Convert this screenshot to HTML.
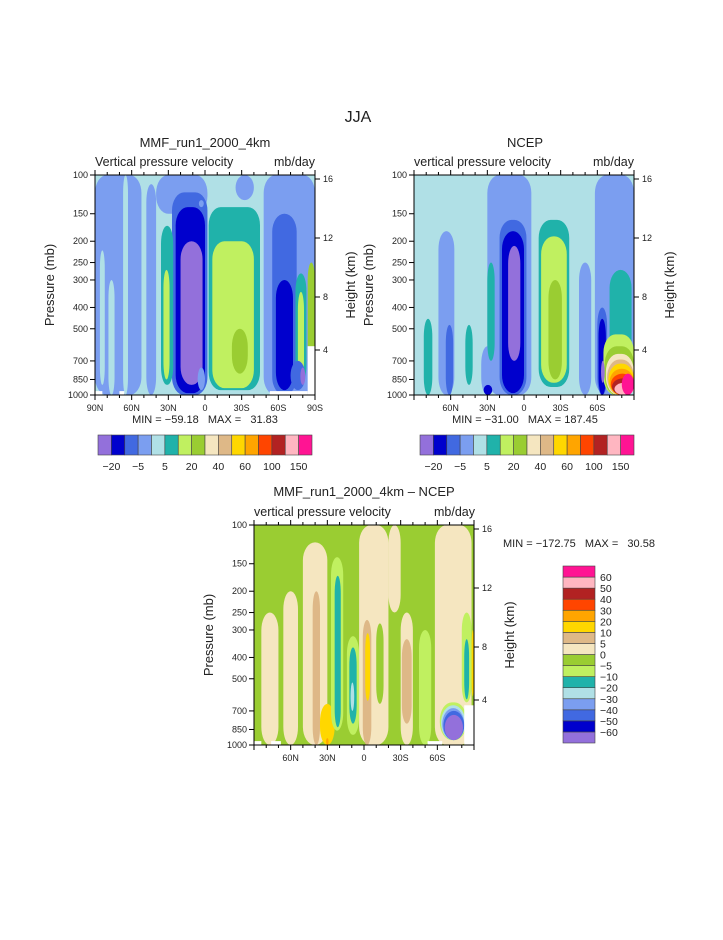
<!DOCTYPE html>
<html><head><meta charset="utf-8"><style>
body{margin:0;background:#fff;}
svg text{font-family:"Liberation Sans",sans-serif;fill:#222;white-space:pre;}
</style></head><body>
<svg id="s" width="723" height="935" viewBox="0 0 723 935">
<rect width="723" height="935" fill="#fff"/>
<text x="358" y="122" font-size="16" text-anchor="middle">JJA</text>
</svg>
<script>
const colors=["#9370DB","#0000CD","#4169E1","#7B9EF0","#B0E0E6","#20B2AA","#C0F060","#9ACD32","#F5E6C0","#DEB887","#FFD700","#FFA500","#FF4500","#B22222","#FFB6C1","#FF1493"];
const pLevels=[100,150,200,250,300,400,500,700,850,1000];
const latTicksFull=[90,60,30,0,-30,-60,-90];
const latTicksInner=[60,30,0,-30,-60];
const heightTicks=[16,12,8,4];
const heightOffsets=[4,63,122,175];
const topBarLabels=["-20","-5","5","20","40","60","100","150"];
const diffBarLabels=["60","50","40","30","20","10","5","0","-5","-10","-20","-30","-40","-50","-60"];
// blobs: [latN, latS, pTop, pBot, colorIndex]
const mmfBg=4;
const mmfBlobs=[
[90,52,100,1000,3],[79,74,300,1000,4],[67,63,100,1000,4],[86,82,220,900,4],[48,40,110,1000,3],
[40,-2,100,150,3],[27,-2,120,1000,2],[24,0,140,980,1],[20,2,200,900,0],
[36,26,170,900,5],[34,29,270,850,6],[-3,-45,140,950,5],[-6,-40,200,930,6],[-22,-35,500,800,7],
[5,1,130,140,3],[6,0,750,950,3],[-25,-40,100,130,3],
[-48,-90,100,1000,3],[-55,-75,150,1000,2],[-58,-72,300,950,1],[-74,-83,280,880,5],[-76,-81,340,840,6],[-84,-90,250,800,7],
[-70,-82,700,950,2],[-78,-82,750,900,0],[90,84,960,1000,-1],[70,66,960,1000,-1],[-53,-84,960,1000,-1],[-84,-90,600,1000,-1]
];
const ncepBg=4;
const ncepBlobs=[
[30,-6,100,1000,3],[20,-2,160,1000,2],[18,0,180,980,1],[13,3,210,700,0],
[-12,-37,160,920,5],[-14,-35,190,880,6],[-20,-31,300,850,7],
[70,57,180,1000,3],[64,58,480,1000,2],[82,75,450,1000,5],[48,42,480,900,5],[35,25,600,1000,3],[33,26,900,1000,1],[30,24,250,700,5],
[-45,-55,250,1000,3],[-58,-90,100,1000,3],[-60,-68,400,1000,2],[-61,-67,450,1000,1],[-70,-88,270,1000,5],
[-65,-90,530,1000,6],[-66,-90,600,1000,7],[-67,-90,650,1000,8],[-68,-90,690,1000,9],[-69,-90,720,1000,10],[-70,-90,760,1000,11],[-71,-90,800,1000,12],[-72,-90,840,1000,13],[-74,-90,880,1000,14],[-80,-90,800,1000,15],[-63,-66,700,880,0]
];
const diffBg=7;
const diffBlobs=[
[84,70,250,1000,8],[66,54,200,1000,8],[50,30,120,1000,8],[42,36,200,1000,9],[36,24,650,1000,10],[31,29,930,1000,11],
[27,17,140,860,6],[24,19,170,830,5],[14,4,320,900,6],[12,6,360,800,5],[11,8,520,700,4],
[4,-20,100,1000,8],[1,-6,270,1000,9],[-1,-5,310,630,10],[-10,-16,280,650,7],[-20,-30,100,250,8],[-30,-40,250,1000,8],[-31,-39,330,800,9],
[-45,-55,300,1000,6],[-58,-88,100,1000,8],[-80,-88,250,640,6],[-82,-86,330,620,5],[-88,-90,300,600,10],
[-62,-84,640,950,6],[-63,-83,660,950,4],[-64,-82,680,950,3],[-65,-82,700,950,2],[-66,-81,730,950,0],
[90,84,960,1000,-1],[76,68,960,1000,-1],[-52,-64,960,1000,-1],[-82,-90,660,1000,-1]
];
const S=document.getElementById('s');
const NS="http://www.w3.org/2000/svg";
function mk(tag,attrs,parent){const e=document.createElementNS(NS,tag);for(const k in attrs)e.setAttribute(k,attrs[k]);(parent||S).appendChild(e);return e;}
function txt(x,y,s,size,anchor,parent){const t=mk('text',{x:x,y:y,'font-size':size,'text-anchor':anchor||'middle'},parent);t.textContent=s;return t;}
function panel(x0,y0,W,H,bg,blobs,latTicks,name){
  const xs=lat=>x0+(90-lat)/180*W;
  const ys=p=>y0+H*(Math.log10(p)-2);
  const g=mk('g',{});
  
  
  mk('clipPath',{id:'c'+name},g).appendChild(mk('rect',{x:x0,y:y0,width:W,height:H},g));
  const cg=mk('g',{'clip-path':'url(#c'+name+')'},g);
  mk('rect',{x:x0,y:y0,width:W,height:H,fill:colors[bg]},cg);
  blobs.forEach(b=>{
    const xa=xs(b[0]),xb=xs(b[1]),ya=ys(b[2]),yb=ys(b[3]);
    const w=xb-xa,h=yb-ya;
    const r=mk('rect',{x:xa,y:ya,width:w,height:h,rx:b[4]<0?0:Math.min(w/2,12),ry:b[4]<0?0:Math.min(h/2,18),fill:b[4]<0?'#fff':colors[b[4]]},cg);
    
    
  });
  mk('rect',{x:x0,y:y0,width:W,height:H,fill:'none',stroke:'#000','stroke-width':1},g);
  pLevels.forEach(p=>{const y=ys(p);mk('line',{x1:x0-5,x2:x0,y1:y,y2:y,stroke:'#000'},g);txt(x0-7,y+3,String(p),9,'end',g);});
  for(let l=90;l>=-90;l-=10){const x=xs(l);const big=l%30==0;mk('line',{x1:x,x2:x,y1:y0+H,y2:y0+H+(big?5:3),stroke:'#000'},g);mk('line',{x1:x,x2:x,y1:y0,y2:y0-(big?5:3),stroke:'#000'},g);}
  latTicks.forEach(l=>{const s=l==0?'0':(Math.abs(l)+(l>0?'N':'S'));txt(xs(l),y0+H+16,s,9,'middle',g);});
  heightTicks.forEach((h,i)=>{const y=y0+heightOffsets[i];mk('line',{x1:x0+W,x2:x0+W+5,y1:y,y2:y,stroke:'#000'},g);txt(x0+W+8,y+3,String(h),9,'start',g);});
  const a=txt(0,0,'Pressure (mb)',13,'middle',g);a.setAttribute('transform','translate('+(x0-41)+','+(y0+H/2)+') rotate(-90)');
  const b=txt(0,0,'Height (km)',13,'middle',g);b.setAttribute('transform','translate('+(x0+W+40)+','+(y0+H/2)+') rotate(-90)');
}
panel(95,175,220,220,mmfBg,mmfBlobs,latTicksFull,'mmf-panel');
panel(414,175,220,220,ncepBg,ncepBlobs,latTicksInner,'ncep-panel');
panel(254,525,220,220,diffBg,diffBlobs,latTicksInner,'diff-panel');
txt(205,147,'MMF_run1_2000_4km',13);
txt(95,166,'Vertical pressure velocity',12.5,'start');txt(315,166,'mb/day',12.5,'end');
txt(525,147,'NCEP',13);
txt(414,166,'vertical pressure velocity',12.5,'start');txt(634,166,'mb/day',12.5,'end');
txt(364,496,'MMF_run1_2000_4km – NCEP',13);
txt(254,516,'vertical pressure velocity',12.5,'start');txt(475,516,'mb/day',12.5,'end');
txt(205,423,'MIN = −59.18   MAX =   31.83',11);
txt(525,423,'MIN = −31.00   MAX = 187.45',11);
txt(503,547,'MIN = −172.75   MAX =   30.58',11,'start');
function hbar(x0,name){
  const g=mk('g',{});
  const w=214/16;
  colors.forEach((c,i)=>{const r=mk('rect',{x:x0+i*w,y:435,width:w,height:20,fill:c,stroke:'#444','stroke-width':0.6},g);});
  topBarLabels.forEach((s,i)=>txt(x0+(2*i+1)*w,470,s.replace('-','−'),10.5,'middle',g));
}
hbar(98,'colorbar-mmf');hbar(420,'colorbar-ncep');
(function(){
  const g=mk('g',{});
  const h=177/16;
  colors.forEach((c,i)=>{const r=mk('rect',{x:563,y:566+(15-i)*h,width:32,height:h,fill:c,stroke:'#444','stroke-width':0.6},g);});
  diffBarLabels.forEach((s,i)=>txt(600,566+(i+1)*h+4,s.replace('-','−'),10.5,'start',g));
})();
</script>
</body></html>
